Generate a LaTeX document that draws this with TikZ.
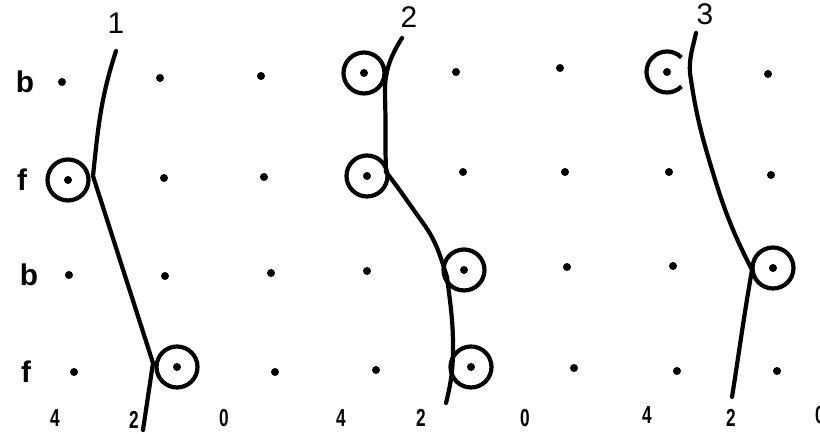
\documentclass[tikz,border=0pt]{standalone}
\usepackage{fontspec}
\setmainfont{Liberation Sans}

\begin{document}
\begin{tikzpicture}[
            dot/.style={
                    circle,
                    fill=black,
                    inner sep=0pt,
                    minimum size=0.08cm
                },
            ring/.style={
                    draw,
                    circle,
                    line width=0.042cm,
                    inner sep=0pt,
                    minimum size=0.41cm
                },
            track/.style={
                    line width=0.042cm,
                    line cap=round
                },
            rowlabel/.style={
                    font=\fontsize{8.5}{9}\selectfont\bfseries
                },
            runlabel/.style={
                    font=\fontsize{8.5}{9}\selectfont
                },
            ticklabel/.style={
                    font=\fontsize{7}{8}\selectfont\bfseries,
                    transform shape,
                    xscale=0.7
                }
        ]
        \useasboundingbox (0, 0) rectangle (8.2, 4.34);

        \node[rowlabel] (row1) at (0.25, 3.52) {b};
        \node[rowlabel] (row2) at (0.22, 2.54) {f};
        \node[rowlabel] (row3) at (0.29, 1.59) {b};
        \node[rowlabel] (row4) at (0.26, 0.62) {f};

        \node[runlabel] (run1) at (1.16, 4.11) {1};
        \node[runlabel] (run2) at (4.09, 4.17) {2};
        \node[runlabel] (run3) at (7.05, 4.20) {3};

        % first run
        \node[dot] (a1) at (0.62, 3.52) {};
        \node[dot] (a2) at (1.60, 3.56) {};
        \node[dot] (a3) at (2.61, 3.58) {};
        \node[dot] (a4) at (0.68, 2.54) {};
        \node[dot] (a5) at (1.64, 2.56) {};
        \node[dot] (a6) at (2.64, 2.57) {};
        \node[dot] (a7) at (0.69, 1.59) {};
        \node[dot] (a8) at (1.65, 1.58) {};
        \node[dot] (a9) at (2.71, 1.61) {};
        \node[dot] (a10) at (0.74, 0.62) {};
        \node[dot] (a11) at (1.77, 0.67) {};
        \node[dot] (a12) at (2.75, 0.62) {};

        % second run
        \node[dot] (b1) at (3.64, 3.61) {};
        \node[dot] (b2) at (4.56, 3.62) {};
        \node[dot] (b3) at (5.60, 3.66) {};
        \node[dot] (b4) at (3.67, 2.58) {};
        \node[dot] (b5) at (4.63, 2.62) {};
        \node[dot] (b6) at (5.65, 2.62) {};
        \node[dot] (b7) at (3.67, 1.63) {};
        \node[dot] (b8) at (4.64, 1.64) {};
        \node[dot] (b9) at (5.67, 1.67) {};
        \node[dot] (b10) at (3.76, 0.64) {};
        \node[dot] (b11) at (4.71, 0.67) {};
        \node[dot] (b12) at (5.74, 0.66) {};

        % third run
        \node[dot] (c1) at (6.67, 3.62) {};
        \node[dot] (c2) at (7.68, 3.60) {};
        \node[dot] (c3) at (6.69, 2.62) {};
        \node[dot] (c4) at (7.71, 2.59) {};
        \node[dot] (c5) at (6.73, 1.68) {};
        \node[dot] (c6) at (7.73, 1.66) {};
        \node[dot] (c7) at (6.77, 0.63) {};
        \node[dot] (c8) at (7.77, 0.63) {};

        \node[ring] (ringa4) at (a4) {};
        \node[ring] (ringa11) at (a11) {};
        \node[ring] (ringb1) at (b1) {};
        \node[ring] (ringb4) at (b4) {};
        \node[ring] (ringb8) at (b8) {};
        \node[ring] (ringb11) at (b11) {};
        \node[ring] (ringc6) at (c6) {};
        \draw[line width=0.042cm] (c1)+(45:0.205) arc[start angle=45, end angle=315, radius=0.205];

        \coordinate (top1) at (1.16, 3.83);
        \coordinate (kink1) at (0.93, 2.58);
        \coordinate (kink2) at (1.53, 0.71);
        \coordinate (end1) at (1.43, 0.04);
        \draw[track] (top1) to[out=252, in=84] (kink1) to (kink2) to (end1);

        \coordinate (top2) at (4.02, 3.96);
        \coordinate (bend2) at (3.85, 3.37);
        \coordinate (kink3) at (3.86, 2.62);
        \coordinate (mid2) at (4.23, 2.11);
        \coordinate (kink4) at (4.47, 1.57);
        \coordinate (bend4) at (4.53, 0.87);
        \coordinate (end2) at (4.46, 0.31);
        \draw[track] (top2) to[out=238, in=92] (bend2) to[out=272, in=92] (kink3)
            to[out=-52, in=126] (mid2) to[out=-54, in=108] (kink4)
            to[out=-83, in=90] (bend4) to[out=-90, in=76] (end2);

        \coordinate (top3) at (6.96, 4.01);
        \coordinate (bend3) at (6.90, 3.61);
        \coordinate (mid3) at (7.13, 2.61);
        \coordinate (kink5) at (7.52, 1.64);
        \coordinate (end3) at (7.32, 0.37);
        \draw[track] (top3) to[out=258, in=94] (bend3) to[out=-82, in=107] (mid3)
            to[out=-73, in=117] (kink5) to[out=-100, in=81] (end3);

        \node[ticklabel] (tick1) at (0.55, 0.16) {4};
        \node[ticklabel] (tick2) at (1.34, 0.14) {2};
        \node[ticklabel] (tick3) at (2.24, 0.16) {0};
        \node[ticklabel] (tick4) at (3.41, 0.16) {4};
        \node[ticklabel] (tick5) at (4.21, 0.16) {2};
        \node[ticklabel] (tick6) at (5.25, 0.16) {0};
        \node[ticklabel] (tick7) at (6.47, 0.19) {4};
        \node[ticklabel] (tick8) at (7.31, 0.16) {2};
        \node[ticklabel] (tick9) at (8.20, 0.19) {0};

    \end{tikzpicture}
\end{document}
